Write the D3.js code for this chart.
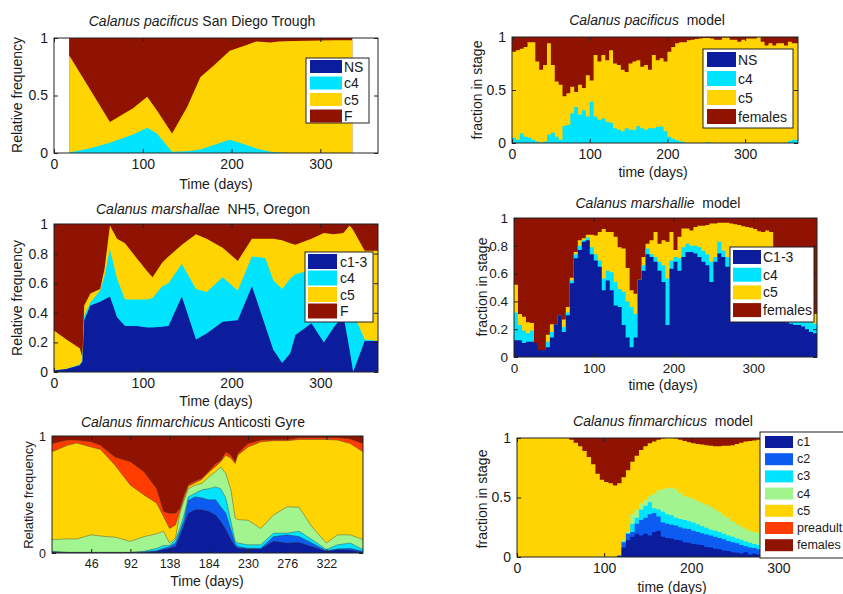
<!DOCTYPE html>
<html>
<head>
<meta charset="utf-8">
<script src="https://cdn.jsdelivr.net/npm/d3@7"></script>
<style>
body { margin: 0; background: #fff; }
svg text { font-family: "Liberation Sans", Arial, Helvetica, sans-serif; fill: #1a1a1a; }
</style>
</head>
<body>
<svg id="fig" width="843" height="594"></svg>
<script>
// ---- colours (stage palette) ----
var colDark = "#0b1c9c", colBlue = "#0d5cf2", colCyan = "#00e4ff", colGreen = "#a2f58e",
    colYellow = "#ffd400", colOrange = "#ff3c00", colRed = "#8f1300";

// ---- C. pacificus, San Diego Trough (observed fractions) ----
var pacObsDay = [17, 40, 63, 89, 105, 116, 133, 150, 165, 180, 198, 217, 228, 244, 253, 270, 315, 336];
var pacObsNS  = [0, 0, 0, 0, 0, 0, 0, 0, 0, 0, 0, 0, 0, 0, 0, 0, 0, 0];
var pacObsC4  = [0.005, 0.04, 0.09, 0.16, 0.22, 0.17, 0.01, 0.015, 0.03, 0.07, 0.115, 0.07, 0.04, 0.01, 0.005, 0, 0, 0];
var pacObsC5  = [0.845, 0.52, 0.18, 0.23, 0.27, 0.20, 0.16, 0.385, 0.63, 0.69, 0.775, 0.87, 0.93, 0.95, 0.965, 0.975, 0.98, 0.98];
var pacObsF   = [0.15, 0.44, 0.73, 0.61, 0.51, 0.63, 0.83, 0.60, 0.34, 0.24, 0.11, 0.06, 0.03, 0.04, 0.03, 0.025, 0.02, 0.02];

// ---- C. pacificus model (5-day bars, cumulative upper edge of each stage) ----
var pacModDay = d3.range(0, 370, 5);
var pacModC4Top = [0.05, 0.03, 0.09, 0.06, 0.05, 0.03, 0.015, 0.005, 0.015, 0.08, 0.10, 0.06, 0.03, 0.16, 0.17,
  0.28, 0.34, 0.27, 0.31, 0.25, 0.39, 0.25, 0.22, 0.23, 0.20, 0.19, 0.14, 0.125, 0.11, 0.14, 0.125, 0.125,
  0.16, 0.14, 0.125, 0.14, 0.14, 0.15, 0.155, 0.11, 0.06, 0.04, 0.025, 0.015, 0.005, 0, 0, 0, 0, 0, 0.01,
  0, 0, 0, 0, 0, 0, 0, 0, 0, 0, 0, 0, 0, 0, 0, 0, 0, 0, 0, 0, 0.02, 0.03, 0.03];
var pacModC5Top = [0.86, 0.875, 0.89, 0.905, 0.95, 0.95, 0.77, 0.69, 0.735, 0.94, 0.735, 0.58, 0.55, 0.44, 0.47,
  0.53, 0.48, 0.55, 0.52, 0.64, 0.59, 0.83, 0.77, 0.83, 0.78, 0.875, 0.75, 0.735, 0.69, 0.67, 0.75, 0.77,
  0.78, 0.72, 0.735, 0.69, 0.83, 0.78, 0.80, 0.77, 0.86, 0.905, 0.94, 0.95, 0.95, 0.97, 0.975, 0.98, 0.985,
  0.99, 0.99, 0.985, 0.975, 0.975, 0.995, 0.995, 0.975, 0.975, 0.955, 0.975, 0.985, 0.985, 0.985, 1.0,
  0.955, 0.92, 0.94, 0.92, 0.94, 0.94, 0.92, 0.955, 0.94, 0.94];

// ---- C. marshallae, NH5 Oregon (observed fractions) ----
var marObsDay = [0, 14, 29, 32, 34, 41, 52, 57, 63, 71, 80, 93, 105, 111, 122, 129, 144, 160, 172, 190, 207,
  223, 238, 247, 257, 266, 272, 290, 304, 315, 326, 333, 337, 350, 365];
var marObsC13 = [0.01, 0.02, 0.045, 0.07, 0.35, 0.45, 0.475, 0.49, 0.51, 0.37, 0.31, 0.31, 0.30, 0.30, 0.305,
  0.31, 0.51, 0.22, 0.26, 0.34, 0.35, 0.58, 0.31, 0.15, 0.06, 0.125, 0.25, 0.33, 0.20, 0.30, 0.38, 0.15, 0.0, 0.21, 0.21];
var marObsC4 = [0, 0, 0.005, 0.01, 0.03, 0.02, 0.075, 0.16, 0.32, 0.26, 0.18, 0.18, 0.19, 0.20, 0.275, 0.29,
  0.22, 0.34, 0.28, 0.30, 0.20, 0.20, 0.46, 0.47, 0.50, 0.505, 0.41, 0.36, 0.50, 0.42, 0.40, 0.40, 0.40, 0.01, 0];
var marObsC5 = [0.27, 0.20, 0.11, 0.02, 0.07, 0.06, 0.01, 0.05, 0.16, 0.27, 0.38, 0.28, 0.19, 0.14, 0.16, 0.18,
  0.13, 0.37, 0.36, 0.20, 0.20, 0.12, 0.13, 0.28, 0.33, 0.24, 0.20, 0.21, 0.24, 0.21, 0.16, 0.44, 0.56, 0.60, 0.61];
var marObsF = [0.72, 0.78, 0.84, 0.90, 0.55, 0.47, 0.44, 0.30, 0.01, 0.10, 0.13, 0.23, 0.32, 0.36, 0.26, 0.22,
  0.14, 0.07, 0.10, 0.16, 0.25, 0.10, 0.10, 0.10, 0.11, 0.13, 0.14, 0.10, 0.06, 0.07, 0.06, 0.01, 0.04, 0.18, 0.18];

// ---- C. marshallae model (5-day bars, cumulative upper edges) ----
var marModDay = d3.range(0, 380, 5);
var marModC13Top = [0.12, 0.12, 0.10, 0.11, 0.11, 0.10, 0.05, 0.05, 0.07, 0.14, 0.235, 0.30, 0.18, 0.30, 0.53,
  0.71, 0.77, 0.83, 0.84, 0.74, 0.695, 0.65, 0.48, 0.55, 0.48, 0.37, 0.36, 0.23, 0.14, 0.07, 0.14, 0.555, 0.62,
  0.74, 0.72, 0.685, 0.62, 0.54, 0.23, 0.635, 0.685, 0.62, 0.72, 0.755, 0.755, 0.745, 0.72, 0.685, 0.66, 0.54,
  0.685, 0.745, 0.72, 0.65, 0.65, 0.6, 0.55, 0.5, 0.45, 0.42, 0.4, 0.38, 0.35, 0.33, 0.3, 0.28, 0.27, 0.26,
  0.25, 0.24, 0.23, 0.23, 0.22, 0.2, 0.18, 0.17];
var marModC4Top = [0.32, 0.23, 0.19, 0.17, 0.19, 0.10, 0.05, 0.05, 0.11, 0.18, 0.235, 0.30, 0.215, 0.32, 0.55,
  0.74, 0.80, 0.84, 0.86, 0.79, 0.74, 0.695, 0.565, 0.62, 0.61, 0.54, 0.49, 0.47, 0.40, 0.36, 0.31, 0.555, 0.66,
  0.78, 0.74, 0.72, 0.685, 0.66, 0.565, 0.695, 0.72, 0.71, 0.79, 0.815, 0.80, 0.80, 0.79, 0.765, 0.74, 0.685,
  0.72, 0.83, 0.765, 0.72, 0.71, 0.66, 0.61, 0.56, 0.51, 0.48, 0.46, 0.44, 0.41, 0.39, 0.36, 0.33, 0.32, 0.31,
  0.30, 0.29, 0.28, 0.28, 0.27, 0.26, 0.25, 0.24];
var marModC5Top = [0.52, 0.31, 0.29, 0.25, 0.245, 0.10, 0.05, 0.05, 0.16, 0.235, 0.235, 0.30, 0.27, 0.36, 0.57,
  0.755, 0.84, 0.855, 0.88, 0.88, 0.875, 0.90, 0.92, 0.90, 0.90, 0.865, 0.79, 0.78, 0.64, 0.48, 0.455, 0.555,
  0.72, 0.815, 0.84, 0.90, 0.815, 0.84, 0.83, 0.90, 0.77, 0.865, 0.925, 0.925, 0.91, 0.935, 0.945, 0.945, 0.95,
  0.96, 0.96, 0.965, 0.965, 0.965, 0.96, 0.955, 0.95, 0.94, 0.935, 0.93, 0.92, 0.905, 0.90, 0.91, 0.90, 0.45,
  0.42, 0.40, 0.38, 0.36, 0.35, 0.34, 0.33, 0.32, 0.31, 0.31];

// ---- C. finmarchicus, Anticosti Gyre (observed fractions) ----
var finObsDay = [0, 18, 29, 46, 57, 74, 92, 108, 123, 131, 138, 145, 150, 155, 160, 168, 176, 184, 192, 198, 204,
  210, 215, 218, 230, 245, 260, 276, 290, 305, 322, 335, 350, 365];
var finObsC1 = [0.005, 0.005, 0.005, 0.005, 0.005, 0.005, 0.005, 0.005, 0.015, 0.03, 0.04, 0.055, 0.14, 0.24, 0.34,
  0.37, 0.37, 0.355, 0.325, 0.27, 0.2, 0.115, 0.055, 0.04, 0.035, 0.035, 0.1, 0.085, 0.09, 0.055, 0.015, 0.03, 0.025, 0.005];
var finObsC2 = [0.005, 0, 0, 0, 0, 0, 0, 0.005, 0.005, 0.01, 0.015, 0.03, 0.04, 0.04, 0.11, 0.11, 0.10, 0.10, 0.13,
  0.125, 0.14, 0.085, 0.025, 0.015, 0.005, 0.005, 0.04, 0.07, 0.05, 0.03, 0.005, 0.005, 0.015, 0.01];
var finObsC3 = [0.005, 0, 0, 0, 0, 0, 0, 0.005, 0.02, 0.025, 0.01, 0.03, 0.03, 0.045, 0.03, 0.03, 0.07, 0.095, 0.11,
  0.155, 0.13, 0.07, 0.02, 0.03, 0.03, 0.03, 0.03, 0.015, 0.045, 0.03, 0.01, 0.035, 0.045, 0.015];
var finObsC4 = [0.10, 0.115, 0.115, 0.15, 0.14, 0.13, 0.095, 0.125, 0.125, 0.12, 0.02, 0.015, 0.13, 0.125, 0.07,
  0.07, 0.055, 0.10, 0.13, 0.185, 0.21, 0.27, 0.20, 0.20, 0.21, 0.14, 0.155, 0.225, 0.205, 0.11, 0.055, 0.085, 0.07, 0.085];
var finObsC5 = [0.75, 0.80, 0.82, 0.75, 0.74, 0.615, 0.48, 0.355, 0.26, 0.125, 0.125, 0.11, 0.02, 0.02, 0.02, 0.02,
  0.035, 0.04, 0.045, 0.045, 0.155, 0.27, 0.465, 0.55, 0.625, 0.74, 0.635, 0.565, 0.58, 0.745, 0.885, 0.81, 0.78, 0.75];
var finObsPre = [0.07, 0.045, 0.025, 0.045, 0.035, 0.07, 0.20, 0.20, 0.125, 0.045, 0.13, 0.10, 0.02, 0.03, 0.015,
  0.015, 0.01, 0.01, 0.025, 0.01, 0.03, 0.025, 0.015, 0.015, 0.03, 0.015, 0.01, 0.01, 0.015, 0.015, 0.015, 0.02, 0.04, 0.07];
var finObsFem = [0.065, 0.035, 0.035, 0.05, 0.08, 0.18, 0.22, 0.305, 0.45, 0.645, 0.66, 0.66, 0.62, 0.50, 0.415,
  0.385, 0.36, 0.30, 0.235, 0.21, 0.135, 0.165, 0.22, 0.15, 0.065, 0.035, 0.03, 0.03, 0.015, 0.015, 0.015, 0.015, 0.025, 0.065];

// ---- C. finmarchicus model (5-day bars, cumulative upper edges; preadult is empty) ----
var finModDay = d3.range(0, 365, 5);
var finModC1Top = [0, 0, 0, 0, 0, 0, 0, 0, 0, 0, 0, 0, 0, 0, 0, 0, 0, 0, 0, 0, 0, 0, 0,
  0.01, 0.08, 0.14, 0.17, 0.195, 0.18, 0.195, 0.18, 0.21, 0.22, 0.17, 0.16, 0.155, 0.145, 0.14, 0.125, 0.12, 0.11,
  0.105, 0.10, 0.085, 0.08, 0.07, 0.065, 0.055, 0.05, 0.04, 0.035, 0.03, 0.04, 0.02, 0.03, 0.02,
  0.02, 0.02, 0.015, 0.015, 0.015, 0.01, 0.01, 0.01, 0.01, 0.005, 0.005, 0.005, 0.005, 0.005, 0.005, 0.005, 0.005];
var finModC2Top = [0, 0, 0, 0, 0, 0, 0, 0, 0, 0, 0, 0, 0, 0, 0, 0, 0, 0, 0, 0, 0, 0, 0,
  0.01, 0.125, 0.195, 0.21, 0.28, 0.31, 0.33, 0.36, 0.37, 0.34, 0.29, 0.28, 0.27, 0.265, 0.25, 0.24, 0.235, 0.22,
  0.21, 0.20, 0.19, 0.18, 0.17, 0.16, 0.15, 0.135, 0.125, 0.115, 0.10, 0.09, 0.08, 0.075, 0.065,
  0.06, 0.055, 0.05, 0.045, 0.04, 0.035, 0.03, 0.03, 0.025, 0.02, 0.02, 0.015, 0.015, 0.015, 0.01, 0.01, 0.01];
var finModC3Top = [0, 0, 0, 0, 0, 0, 0, 0, 0, 0, 0, 0, 0, 0, 0, 0, 0, 0, 0, 0, 0, 0, 0,
  0.01, 0.13, 0.20, 0.28, 0.33, 0.40, 0.43, 0.46, 0.41, 0.40, 0.38, 0.36, 0.35, 0.33, 0.32, 0.31, 0.30, 0.29,
  0.275, 0.26, 0.245, 0.23, 0.22, 0.21, 0.195, 0.18, 0.17, 0.155, 0.145, 0.13, 0.12, 0.11, 0.10,
  0.095, 0.09, 0.08, 0.075, 0.07, 0.06, 0.055, 0.05, 0.045, 0.04, 0.035, 0.03, 0.03, 0.025, 0.02, 0.02, 0.02];
var finModC4Top = [0, 0, 0, 0, 0, 0, 0, 0, 0, 0, 0, 0, 0, 0, 0, 0, 0, 0, 0, 0, 0, 0, 0,
  0.01, 0.14, 0.21, 0.36, 0.40, 0.45, 0.48, 0.51, 0.53, 0.56, 0.57, 0.58, 0.585, 0.57, 0.54, 0.51, 0.50, 0.49,
  0.47, 0.455, 0.44, 0.42, 0.40, 0.38, 0.35, 0.33, 0.30, 0.275, 0.255, 0.24, 0.22, 0.21, 0.20,
  0.19, 0.18, 0.17, 0.16, 0.15, 0.14, 0.13, 0.12, 0.115, 0.11, 0.1, 0.095, 0.09, 0.085, 0.08, 0.08, 0.075];
var finModC5Top = [1, 1, 1, 1, 1, 1, 1, 1, 1, 1, 1, 1,
  0.985, 0.96, 0.93, 0.89, 0.84, 0.78, 0.70, 0.65, 0.63, 0.62, 0.60, 0.62, 0.67, 0.73, 0.80, 0.85, 0.90, 0.93,
  0.955, 0.97, 0.985, 0.995, 1.0, 1.0, 0.995, 0.985, 0.975, 0.965, 0.955, 0.95, 0.945, 0.94, 0.935, 0.93, 0.93,
  0.935, 0.935, 0.94, 0.95, 0.96, 0.97, 0.975, 0.98, 0.985,
  0.99, 0.99, 0.99, 0.99, 0.99, 0.99, 0.99, 0.99, 0.99, 0.99, 0.99, 0.99, 0.99, 0.99, 0.99, 0.99, 0.99];

var svg = d3.select("#fig");
svg.append("rect").attr("width", 843).attr("height", 594).attr("fill", "#fff");

// observed data: stacked areas, drawn as cumulative fills from the top stage down
function drawObserved( plot, x, y, days, stages, colors, outline ){
	var rows = days.map(function( d, i ){
		var r = { day: d };
		stages.forEach(function( s, k ){ r["s" + k] = s[i]; });
		return r;
	});
	var keys = stages.map(function( s, k ){ return "s" + k; });
	var series = d3.stack().keys(keys)(rows);
	var area = d3.area()
		.x(function( d ){ return x(d.data.day); })
		.y0(y(0))
		.y1(function( d ){ return y(d[1]); });
	series.slice().reverse().forEach(function( s ){
		plot.append("path").datum(s).attr("d", area).attr("fill", colors[s.index]);
	});
	if ( outline ){
		var line = d3.line()
			.x(function( d ){ return x(d.data.day); })
			.y(function( d ){ return y(d[1]); });
		series.slice(0, series.length - 1).forEach(function( s ){
			plot.append("path").datum(s).attr("d", line)
				.attr("fill", "none").attr("stroke", "#3c3c3c")
				.attr("stroke-width", 0.6).attr("stroke-opacity", 0.7);
		});
	}
}

// model output: 5-day bars; tops are cumulative upper edges, last stage fills to 1
function drawModel( plot, x, y, days, tops, colors, binWidth ){
	var n = days.length;
	var area = d3.area().curve(d3.curveStepAfter)
		.x(function( p ){ return x(p.day); })
		.y0(y(0))
		.y1(function( p ){ return y(p.v); });
	for ( var k = colors.length - 1; k >= 0; k-- ){
		var pts;
		if ( k >= tops.length ){
			pts = [ { day: days[0], v: 1 }, { day: days[n - 1] + binWidth, v: 1 } ];
		} else {
			pts = days.map(function( d, i ){ return { day: d, v: tops[k][i] }; });
			pts.push({ day: days[n - 1] + binWidth, v: tops[k][n - 1] });
		}
		plot.append("path").datum(pts).attr("d", area).attr("fill", colors[k]);
	}
}

function addLegend( g, lg ){
	if ( lg == undefined ) return;
	g.append("rect").attr("x", lg.box[0]).attr("y", lg.box[1]).attr("width", lg.box[2]).attr("height", lg.box[3])
		.attr("fill", "#fff").attr("stroke", "#222").attr("stroke-width", 1);
	lg.items.forEach(function( it, i ){
		var top = lg.first + i * lg.row;
		g.append("rect").attr("x", lg.sx).attr("y", top).attr("width", lg.sw).attr("height", lg.sh)
			.attr("fill", it[1]);
		g.append("text").attr("x", lg.tx).attr("y", top + lg.sh / 2)
			.attr("dominant-baseline", "central")
			.style("font-size", lg.fs + "px").text(it[0]);
	});
}

function drawPanel( p ){
	var g = svg.append("g");
	var x = d3.scaleLinear().domain(p.xdom).range([p.left, p.right]);
	var y = d3.scaleLinear().domain([0, 1]).range([p.bottom, p.top]);

	svg.append("clipPath").attr("id", "clip" + p.id)
		.append("rect").attr("x", p.left).attr("y", p.top)
		.attr("width", p.right - p.left).attr("height", p.bottom - p.top);
	var plot = g.append("g").attr("clip-path", "url(#clip" + p.id + ")");
	p.draw(plot, x, y);

	var fmt = function( d ){ return String(d); };
	var ax = [
		g.append("g").attr("transform", "translate(0," + p.bottom + ")")
			.call(d3.axisBottom(x).tickValues(p.xticks).tickFormat(fmt).tickSizeInner(-4).tickSizeOuter(0).tickPadding(6)),
		g.append("g").attr("transform", "translate(" + p.left + ",0)")
			.call(d3.axisLeft(y).tickValues(p.yticks).tickFormat(fmt).tickSizeInner(-4).tickSizeOuter(0).tickPadding(6)),
		g.append("g").attr("transform", "translate(0," + p.top + ")")
			.call(d3.axisTop(x).tickValues(p.xticks).tickFormat("").tickSizeInner(-4).tickSizeOuter(0)),
		g.append("g").attr("transform", "translate(" + p.right + ",0)")
			.call(d3.axisRight(y).tickValues(p.yticks).tickFormat("").tickSizeInner(-4).tickSizeOuter(0))
	];
	ax.forEach(function( a ){
		a.attr("font-family", null).attr("font-size", null);
		a.select(".domain").remove();
		a.selectAll(".tick line").attr("stroke", "#222");
		a.selectAll(".tick text").style("font-size", p.tickFs + "px").attr("fill", "#1a1a1a");
	});

	g.append("rect").attr("x", p.left).attr("y", p.top)
		.attr("width", p.right - p.left).attr("height", p.bottom - p.top)
		.attr("fill", "none").attr("stroke", "#222").attr("stroke-width", 1);

	var t = g.append("text").attr("x", p.title.x).attr("y", p.title.y)
		.attr("text-anchor", "middle").style("font-size", "14px").style("white-space", "pre");
	t.append("tspan").style("font-style", "italic").text(p.title.species);
	t.append("tspan").text(p.title.rest);

	g.append("text").attr("x", p.xlab.x).attr("y", p.xlab.y).attr("text-anchor", "middle")
		.style("font-size", "14px").text(p.xlab.text);
	g.append("text").attr("transform", "translate(" + p.ylab.x + "," + p.ylab.y + ") rotate(-90)")
		.attr("text-anchor", "middle").attr("dominant-baseline", "central")
		.style("font-size", p.ylab.fs + "px").text(p.ylab.text);

	addLegend(g, p.legend);
}

var panels = [
	{ id: 1, left: 54, right: 378, top: 38, bottom: 153, xdom: [0, 365], xticks: [0, 100, 200, 300], yticks: [0, 0.5, 1], tickFs: 14,
	  draw: function( plot, x, y ){ drawObserved(plot, x, y, pacObsDay, [pacObsNS, pacObsC4, pacObsC5, pacObsF], [colDark, colCyan, colYellow, colRed], false); },
	  title: { x: 202, y: 26, species: "Calanus pacificus", rest: " San Diego Trough" },
	  xlab: { x: 216, y: 189, text: "Time (days)" }, ylab: { x: 17, y: 95, fs: 14, text: "Relative frequency" },
	  legend: { box: [306, 58, 63, 65], items: [["NS", colDark], ["c4", colCyan], ["c5", colYellow], ["F", colRed]],
	            first: 60, row: 16.5, sx: 310, sw: 32, sh: 13, tx: 344, fs: 14 } },
	{ id: 2, left: 512, right: 798, top: 37, bottom: 143, xdom: [0, 368], xticks: [0, 100, 200, 300], yticks: [0, 0.5, 1], tickFs: 14,
	  draw: function( plot, x, y ){ drawModel(plot, x, y, pacModDay, [pacModC4Top, pacModC5Top], [colCyan, colYellow, colRed], 5); },
	  title: { x: 647, y: 25, species: "Calanus pacificus", rest: "  model" },
	  xlab: { x: 653, y: 177, text: "time (days)" }, ylab: { x: 477, y: 90, fs: 14, text: "fraction in stage" },
	  legend: { box: [703, 49, 90, 79], items: [["NS", colDark], ["c4", colCyan], ["c5", colYellow], ["females", colRed]],
	            first: 52, row: 19, sx: 707, sw: 29, sh: 15, tx: 738, fs: 14 } },
	{ id: 3, left: 54, right: 378, top: 224, bottom: 372, xdom: [0, 365], xticks: [0, 100, 200, 300], yticks: [0, 0.2, 0.4, 0.6, 0.8, 1], tickFs: 14,
	  draw: function( plot, x, y ){ drawObserved(plot, x, y, marObsDay, [marObsC13, marObsC4, marObsC5, marObsF], [colDark, colCyan, colYellow, colRed], false); },
	  title: { x: 203, y: 214, species: "Calanus marshallae", rest: "  NH5, Oregon" },
	  xlab: { x: 216, y: 406, text: "Time (days)" }, ylab: { x: 17, y: 298, fs: 14, text: "Relative frequency" },
	  legend: { box: [305, 252, 68, 70], items: [["c1-3", colDark], ["c4", colCyan], ["c5", colYellow], ["F", colRed]],
	            first: 254, row: 16.5, sx: 308, sw: 29, sh: 15, tx: 340, fs: 14 } },
	{ id: 4, left: 514, right: 817, top: 218, bottom: 357, xdom: [0, 380], xticks: [0, 100, 200, 300], yticks: [0, 0.2, 0.4, 0.6, 0.8, 1], tickFs: 13.5,
	  draw: function( plot, x, y ){ drawModel(plot, x, y, marModDay, [marModC13Top, marModC4Top, marModC5Top], [colDark, colCyan, colYellow, colRed], 5); },
	  title: { x: 658, y: 208, species: "Calanus marshallie", rest: "  model" },
	  xlab: { x: 663, y: 390, text: "time (days)" }, ylab: { x: 482, y: 287, fs: 14, text: "fraction in stage" },
	  legend: { box: [730, 247, 84, 75], items: [["C1-3", colDark], ["c4", colCyan], ["c5", colYellow], ["females", colRed]],
	            first: 250, row: 17.7, sx: 733, sw: 28, sh: 14, tx: 763, fs: 14 } },
	{ id: 5, left: 52, right: 363, top: 436, bottom: 553, xdom: [0, 365], xticks: [46, 92, 138, 184, 230, 276, 322], yticks: [0, 1], tickFs: 12.5,
	  draw: function( plot, x, y ){ drawObserved(plot, x, y, finObsDay, [finObsC1, finObsC2, finObsC3, finObsC4, finObsC5, finObsPre, finObsFem],
	        [colDark, colBlue, colCyan, colGreen, colYellow, colOrange, colRed], true); },
	  title: { x: 193, y: 427, species: "Calanus finmarchicus", rest: " Anticosti Gyre" },
	  xlab: { x: 207, y: 586, text: "Time (days)" }, ylab: { x: 28, y: 495, fs: 13, text: "Relative frequency" },
	  legend: null },
	{ id: 6, left: 517, right: 835, top: 438, bottom: 557, xdom: [0, 365], xticks: [0, 100, 200, 300], yticks: [0, 0.5, 1], tickFs: 14,
	  draw: function( plot, x, y ){ drawModel(plot, x, y, finModDay, [finModC1Top, finModC2Top, finModC3Top, finModC4Top, finModC5Top],
	        [colDark, colBlue, colCyan, colGreen, colYellow, colRed], 5); },
	  title: { x: 663, y: 426, species: "Calanus finmarchicus", rest: "  model" },
	  xlab: { x: 672, y: 592, text: "time (days)" }, ylab: { x: 482, y: 499, fs: 14, text: "fraction in stage" },
	  legend: { box: [760, 432, 90, 126], items: [["c1", colDark], ["c2", colBlue], ["c3", colCyan], ["c4", colGreen],
	            ["c5", colYellow], ["preadult", colOrange], ["females", colRed]],
	            first: 436, row: 17.2, sx: 765, sw: 28, sh: 12, tx: 797, fs: 12.5 } }
];

panels.forEach(drawPanel);
</script>
</body>
</html>
